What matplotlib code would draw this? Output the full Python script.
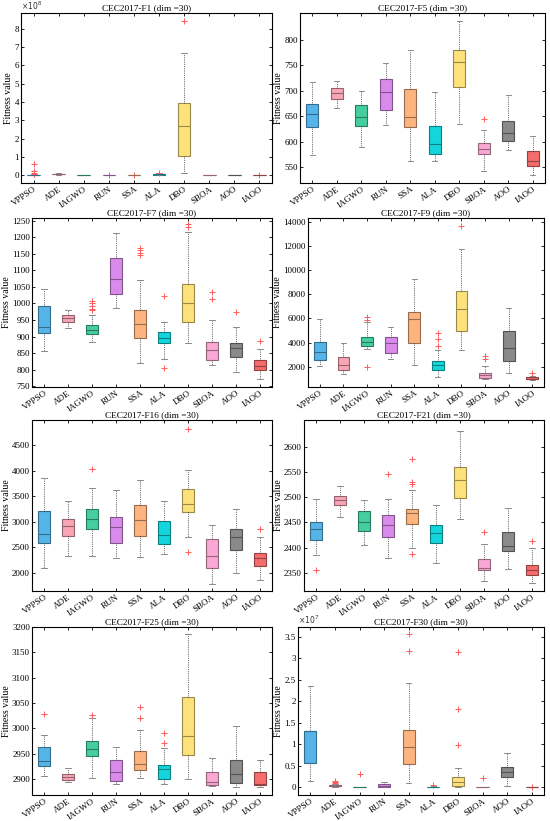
import matplotlib
matplotlib.use("Agg")
import matplotlib.pyplot as plt
import matplotlib.colors as mcolors
from matplotlib.ticker import FuncFormatter
import numpy as np

plt.rcParams['font.family'] = ['Liberation Serif', 'DejaVu Serif']

algorithms = ['VPPSO', 'ADE', 'IAGWO', 'RUN', 'SSA', 'ALA', 'DBO', 'SBOA', 'AOO', 'IAOO']
box_colors = ['#56B4E9', '#F8A5B5', '#46CF9E', '#D98BEB', '#FDB47E',
              '#13D5DB', '#FDE27B', '#F8A8D2', '#8A8A8A', '#F56C6C']

# five-number summaries per algorithm: [low whisker, q1, median, q3, high whisker]
f1_stats = [[0.0, 0.0, 0.005, 0.01, 0.03], [0.02, 0.05, 0.07, 0.09, 0.13],
            [0.0, 0.005, 0.01, 0.02, 0.03], [0.0, 0.0, 0.0, 0.005, 0.01],
            [0.0, 0.0, 0.0, 0.005, 0.01], [0.01, 0.03, 0.05, 0.07, 0.1],
            [0.1, 1.03, 2.7, 3.93, 6.68], [0.0, 0.0, 0.0, 0.005, 0.01],
            [0.0, 0.0, 0.0, 0.005, 0.01], [0.0, 0.0, 0.0, 0.005, 0.01]]
f1_out = [[0.62, 0.25, 0.12, 0.07, 0.05], [], [], [0.02], [0.02], [0.12], [8.4], [], [], [0.02]]

f5_stats = [[574, 628, 655, 673, 716], [665, 684, 695, 705, 719],
            [590, 631, 649, 671, 700], [632, 662, 698, 722, 755],
            [562, 629, 649, 703, 779], [563, 575, 595, 630, 698],
            [635, 708, 756, 779, 836], [543, 575, 586, 598, 623],
            [584, 601, 616, 641, 691], [534, 552, 562, 581, 612]]
f5_out = [[], [], [], [], [], [], [], [645], [], []]

f7_stats = [[858, 912, 930, 992, 1045], [925, 945, 955, 965, 981],
            [883, 907, 920, 935, 965], [987, 1030, 1075, 1136, 1213],
            [820, 895, 938, 980, 1070], [832, 880, 895, 913, 944],
            [880, 944, 1000, 1058, 1216], [815, 830, 860, 884, 950],
            [792, 838, 865, 880, 930], [772, 798, 810, 828, 862]]
f7_out = [[], [], [980, 982, 993, 1002, 1008], [], [1145, 1152, 1160, 1167],
          [1022, 806], [1232, 1240], [1015, 1035], [975], [887]]

f9_stats = [[2055, 2585, 3225, 4060, 5928], [1360, 1750, 2170, 2780, 4000],
            [3420, 3700, 4060, 4480, 5730], [2600, 3100, 4000, 4500, 5300],
            [2110, 4000, 5950, 6570, 9300], [1140, 1750, 2170, 2470, 3340],
            [3340, 4980, 6760, 8300, 11780], [940, 1050, 1280, 1500, 2080],
            [1500, 2470, 3560, 4950, 6900], [890, 950, 1000, 1100, 1200]]
f9_out = [[], [], [6100, 5850, 1950], [], [], [4800, 4300, 3700], [13700],
          [2850, 2650], [], [1500]]

f16_stats = [[2092, 2597, 2761, 3207, 3864], [2341, 2728, 2925, 3056, 3417],
             [2335, 2860, 3056, 3253, 3667], [2289, 2584, 2892, 3089, 3627],
             [2322, 2728, 3037, 3339, 3818], [2367, 2564, 2748, 3010, 3404],
             [2702, 3201, 3352, 3647, 4021], [1790, 2105, 2335, 2669, 2932],
             [1993, 2459, 2695, 2866, 3253], [1856, 2144, 2302, 2400, 2708]]
f16_out = [[], [], [4028], [], [], [], [4808, 2413], [], [], [2860]]

f21_stats = [[2385, 2415, 2436, 2450, 2496], [2460, 2485, 2494, 2503, 2522],
             [2405, 2432, 2450, 2473, 2494], [2380, 2421, 2444, 2465, 2496],
             [2399, 2446, 2468, 2477, 2514], [2369, 2410, 2428, 2444, 2485],
             [2456, 2499, 2534, 2559, 2632], [2334, 2355, 2359, 2377, 2407],
             [2358, 2394, 2403, 2430, 2479], [2330, 2345, 2355, 2366, 2399]]
f21_out = [[2355], [], [], [2545], [2576, 2531, 2527, 2387], [], [], [2430], [], [2413]]

f25_stats = [[2906, 2925, 2935, 2963, 2986], [2893, 2898, 2904, 2910, 2922],
             [2901, 2945, 2959, 2975, 3021], [2889, 2895, 2913, 2938, 2962],
             [2901, 2917, 2929, 2955, 2997], [2889, 2900, 2919, 2927, 2960],
             [2899, 2947, 2985, 3061, 3187], [2885, 2888, 2893, 2914, 2941],
             [2884, 2891, 2910, 2938, 3004], [2884, 2887, 2889, 2913, 2937]]
f25_out = [[3028], [], [3026], [], [3041, 3020], [2990, 2971], [], [], [], []]

f30_stats = [[0.155, 0.557, 1.31, 1.316, 2.36], [0.0, 0.02, 0.03, 0.05, 0.08],
             [0.0, 0.0, 0.0, 0.005, 0.01], [0.0, 0.01, 0.04, 0.08, 0.12],
             [0.09, 0.55, 0.93, 1.34, 2.42], [0.0, 0.005, 0.01, 0.015, 0.02],
             [0.0, 0.03, 0.13, 0.24, 0.45], [0.0, 0.0, 0.005, 0.01, 0.015],
             [0.04, 0.25, 0.35, 0.47, 0.80], [0.0, 0.0, 0.0, 0.005, 0.01]]
f30_out = [[], [0.12, 0.14, 0.10], [0.32], [], [3.56, 3.18], [0.05],
           [0.99, 1.82, 3.14], [0.21], [], [0.0]]

panels = [
    ('CEC2017-F1 (dim =30)', f1_stats, f1_out, (-0.42, 8.86), np.arange(0, 9, 1), 8),
    ('CEC2017-F5 (dim =30)', f5_stats, f5_out, (519, 852), np.arange(550, 801, 50), None),
    ('CEC2017-F7 (dim =30)', f7_stats, f7_out, (748, 1258), np.arange(750, 1251, 50), None),
    ('CEC2017-F9 (dim =30)', f9_stats, f9_out, (300, 14360), np.arange(2000, 14001, 2000), None),
    ('CEC2017-F16 (dim =30)', f16_stats, f16_out, (1650, 4990), np.arange(2000, 4501, 500), None),
    ('CEC2017-F21 (dim =30)', f21_stats, f21_out, (2314, 2653), np.arange(2350, 2601, 50), None),
    ('CEC2017-F25 (dim =30)', f25_stats, f25_out, (2868, 3200), np.arange(2900, 3201, 50), None),
    ('CEC2017-F30 (dim =30)', f30_stats, f30_out, (-0.18, 3.73), np.arange(0, 3.51, 0.5), 7),
]

# axes boxes in pixels: left, right, top, bottom
W, H = 550, 821
boxes_px = [(21, 272, 13, 183), (300, 545, 13, 183),
            (32, 272, 218, 387), (308, 544, 218, 387),
            (32, 272, 420, 591), (304, 544, 420, 591),
            (32, 272, 627, 795), (298, 544, 627, 795)]

fig = plt.figure(figsize=(5.5, 8.21), dpi=100)


def darker(c, f):
    r, g, b = mcolors.to_rgb(c)
    return (r * f, g * f, b * f)


for (title, stats, outs, ylim, yticks, expo), (l, r, t, b) in zip(panels, boxes_px):
    ax = fig.add_axes([l / W, 1 - b / H, (r - l) / W, (b - t) / H])
    bstats = []
    for name, s, o in zip(algorithms, stats, outs):
        bstats.append({'label': name, 'whislo': s[0], 'q1': s[1], 'med': s[2],
                       'q3': s[3], 'whishi': s[4], 'fliers': o})
    art = ax.bxp(bstats, positions=range(1, 11), widths=0.5, patch_artist=True,
                 showfliers=True,
                 whiskerprops=dict(linestyle=(0, (1, 1.2)), color='#444444', linewidth=0.6),
                 capprops=dict(color='#777777', linewidth=0.6),
                 flierprops=dict(marker='+', markeredgecolor='#FF5A5A', markersize=4,
                                 markeredgewidth=0.7, linestyle='none'),
                 capwidths=0.22)
    for patch, med, c in zip(art['boxes'], art['medians'], box_colors):
        patch.set_facecolor(c)
        patch.set_edgecolor(darker(c, 0.6))
        patch.set_linewidth(0.8)
        med.set_color(darker(c, 0.6))
        med.set_linewidth(0.8)

    ax.set_xlim(0.5, 10.5)
    ax.set_ylim(*ylim)
    ax.set_yticks(yticks)
    ax.yaxis.set_major_formatter(FuncFormatter(lambda v, p: '%g' % round(v, 6)))
    ax.set_xticks(range(1, 11))
    ax.set_xticklabels(algorithms, rotation=35, ha='right', rotation_mode='anchor',
                       fontsize=6.5)
    ax.tick_params(axis='both', direction='in', top=True, right=True,
                   length=2.5, width=0.6, labelsize=6.5, pad=2)
    ax.tick_params(axis='x', pad=1.5)
    ax.tick_params(axis='y', pad=1.5)
    for sp in ax.spines.values():
        sp.set_linewidth(0.8)
    ax.set_title(title, fontsize=6.7, pad=2)
    ax.set_ylabel('Fitness value', fontsize=7, labelpad=1)
    if expo is not None:
        ax.text(0.0, 1.005, r'$\times 10^{%d}$' % expo, transform=ax.transAxes,
                fontsize=5.5, ha='left', va='bottom', color='#333333')

fig.savefig('out.png', dpi=100)
